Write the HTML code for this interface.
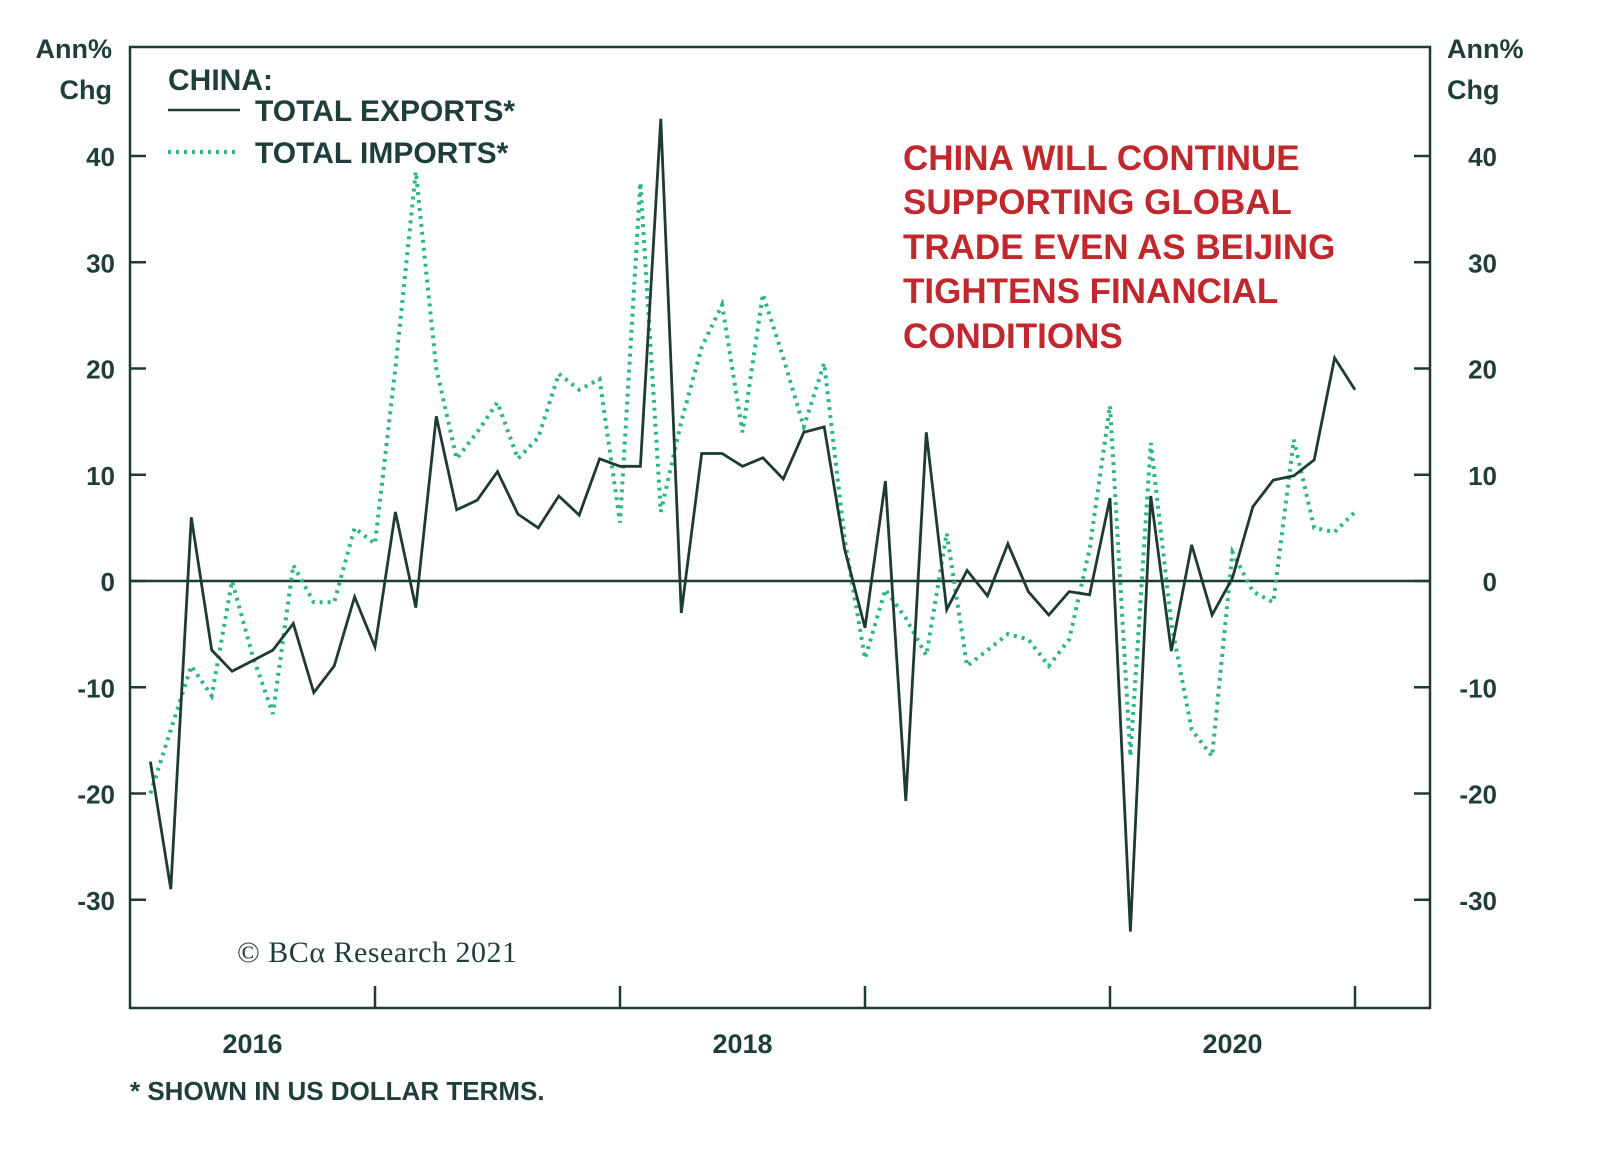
<!DOCTYPE html>
<html><head><meta charset="utf-8"><style>
body{margin:0;background:#fff;}
svg{display:block;font-family:"Liberation Sans",sans-serif;}
</style></head><body>
<svg width="1600" height="1163" viewBox="0 0 1600 1163">
<g id="axes"></g>
<g id="series"></g>
<g font-weight="bold" fill="#1f3d3a" font-size="30">
<text x="168" y="90">CHINA:</text>
<line x1="168" y1="110" x2="240" y2="110" stroke="#1e3a35" stroke-width="2.5"/>
<text x="255" y="121">TOTAL EXPORTS*</text>
<line x1="168" y1="152" x2="240" y2="152" stroke="#2db58a" stroke-width="4" stroke-dasharray="3,5"/>
<text x="255" y="163">TOTAL IMPORTS*</text>
</g>
<g font-weight="bold" fill="#c0282d" font-size="35">
<text x="903" y="170">CHINA WILL CONTINUE</text>
<text x="903" y="214">SUPPORTING GLOBAL</text>
<text x="903" y="259">TRADE EVEN AS BEIJING</text>
<text x="903" y="303">TIGHTENS FINANCIAL</text>
<text x="903" y="348">CONDITIONS</text>
</g>
<text x="237" y="962" font-family="Liberation Serif,serif" font-size="30" letter-spacing="0.5" fill="#1f3d3a">© BCα Research 2021</text>
<text x="130" y="1100" font-size="26" font-weight="bold" fill="#1f3d3a">* SHOWN IN US DOLLAR TERMS.</text>
<g font-weight="bold" fill="#1f3d3a" font-size="27">
<text x="112" y="58" text-anchor="end">Ann%</text>
<text x="112" y="99" text-anchor="end">Chg</text>
<text x="1447" y="58">Ann%</text>
<text x="1447" y="99">Chg</text>
</g>
</svg>
<script>
const yTicks=[40,30,20,10,0,-10,-20,-30];
const yearLabels=["2016","2018","2020"];
const yearLabelPos=[2016.5,2018.5,2020.5];
const yearTicks=[2017,2018,2019,2020,2021];
const exportsVals=[-17,-29,6,-6.5,-8.5,-7.5,-6.5,-4,-10.5,-8,-1.5,-6.2,6.5,-2.5,15.5,6.7,7.6,10.3,6.3,5,8,6.2,11.5,10.8,10.8,43.5,-3,12,12,10.8,11.6,9.6,14,14.5,3,-4.4,9.4,-20.7,14,-2.7,1,-1.4,3.5,-1,-3.2,-1,-1.3,7.8,-33,8,-6.6,3.4,-3.2,0.3,7,9.5,9.9,11.4,21,18];
const importsVals=[-20,-14,-8,-10.8,0,-7,-12.5,1.5,-2,-2,5,3.5,20,38.5,20,11.5,14,16.8,11.5,13.5,19.5,18,19,5.5,37.5,6.5,15,22,26,14,27,21,14.5,20.5,4,-7.3,-0.8,-3.5,-7,4.5,-8,-6.5,-5,-5.5,-8,-5.5,3,16.5,-16.5,13,-4,-14,-16.5,2.7,-1,-2,13.3,5,4.6,6.5];
const NS="http://www.w3.org/2000/svg";
const L=130,R=1430,T=47,B=1008;
const y=v=>581-v*10.625;
const xm=i=>L+(i+1)*(245/12);
const xy=yr=>L+(yr-2016)*245;
function mk(tag,attrs,parent){const e=document.createElementNS(NS,tag);for(const k in attrs)e.setAttribute(k,attrs[k]);parent.appendChild(e);return e;}
const ax=document.getElementById('axes');
const frame=mk('rect',{x:L,y:T,width:R-L,height:B-T,fill:'none',stroke:'#1e3a35','stroke-width':2.5},ax);


const zl=mk('line',{x1:L,x2:R,y1:y(0),y2:y(0),stroke:'#1e3a35','stroke-width':2.5},ax);


yTicks.forEach(v=>{
 mk('line',{x1:L,x2:L+16,y1:y(v),y2:y(v),stroke:'#1e3a35','stroke-width':2.5},ax);
 mk('line',{x1:R-16,x2:R,y1:y(v),y2:y(v),stroke:'#1e3a35','stroke-width':2.5},ax);
 const t=mk('text',{x:115,y:y(v)+10,'text-anchor':'end','font-size':26,'font-weight':'bold',fill:'#1f3d3a'},ax);t.textContent=v;
 
 
 const t2=mk('text',{x:1497,y:y(v)+10,'text-anchor':'end','font-size':26,'font-weight':'bold',fill:'#1f3d3a'},ax);t2.textContent=v;
 
 
});
yearTicks.forEach(yr=>{mk('line',{x1:xy(yr),x2:xy(yr),y1:B-22,y2:B,stroke:'#1e3a35','stroke-width':2.5},ax);});
yearLabels.forEach((s,i)=>{const t=mk('text',{x:xy(yearLabelPos[i]),y:1053,'text-anchor':'middle','font-size':27,'font-weight':'bold',fill:'#1f3d3a'},ax);t.textContent=s;
 
 });
const sg=document.getElementById('series');
const pi=importsVals.map((v,i)=>xm(i).toFixed(1)+','+y(v).toFixed(1)).join(' ');
const imp=mk('polyline',{points:pi,fill:'none',stroke:'#2db58a','stroke-width':4,'stroke-dasharray':'3,5'},sg);


const pe=exportsVals.map((v,i)=>xm(i).toFixed(1)+','+y(v).toFixed(1)).join(' ');
const exp=mk('polyline',{points:pe,fill:'none',stroke:'#1e3a35','stroke-width':2.8,'stroke-linejoin':'miter'},sg);


</script>
</body></html>
